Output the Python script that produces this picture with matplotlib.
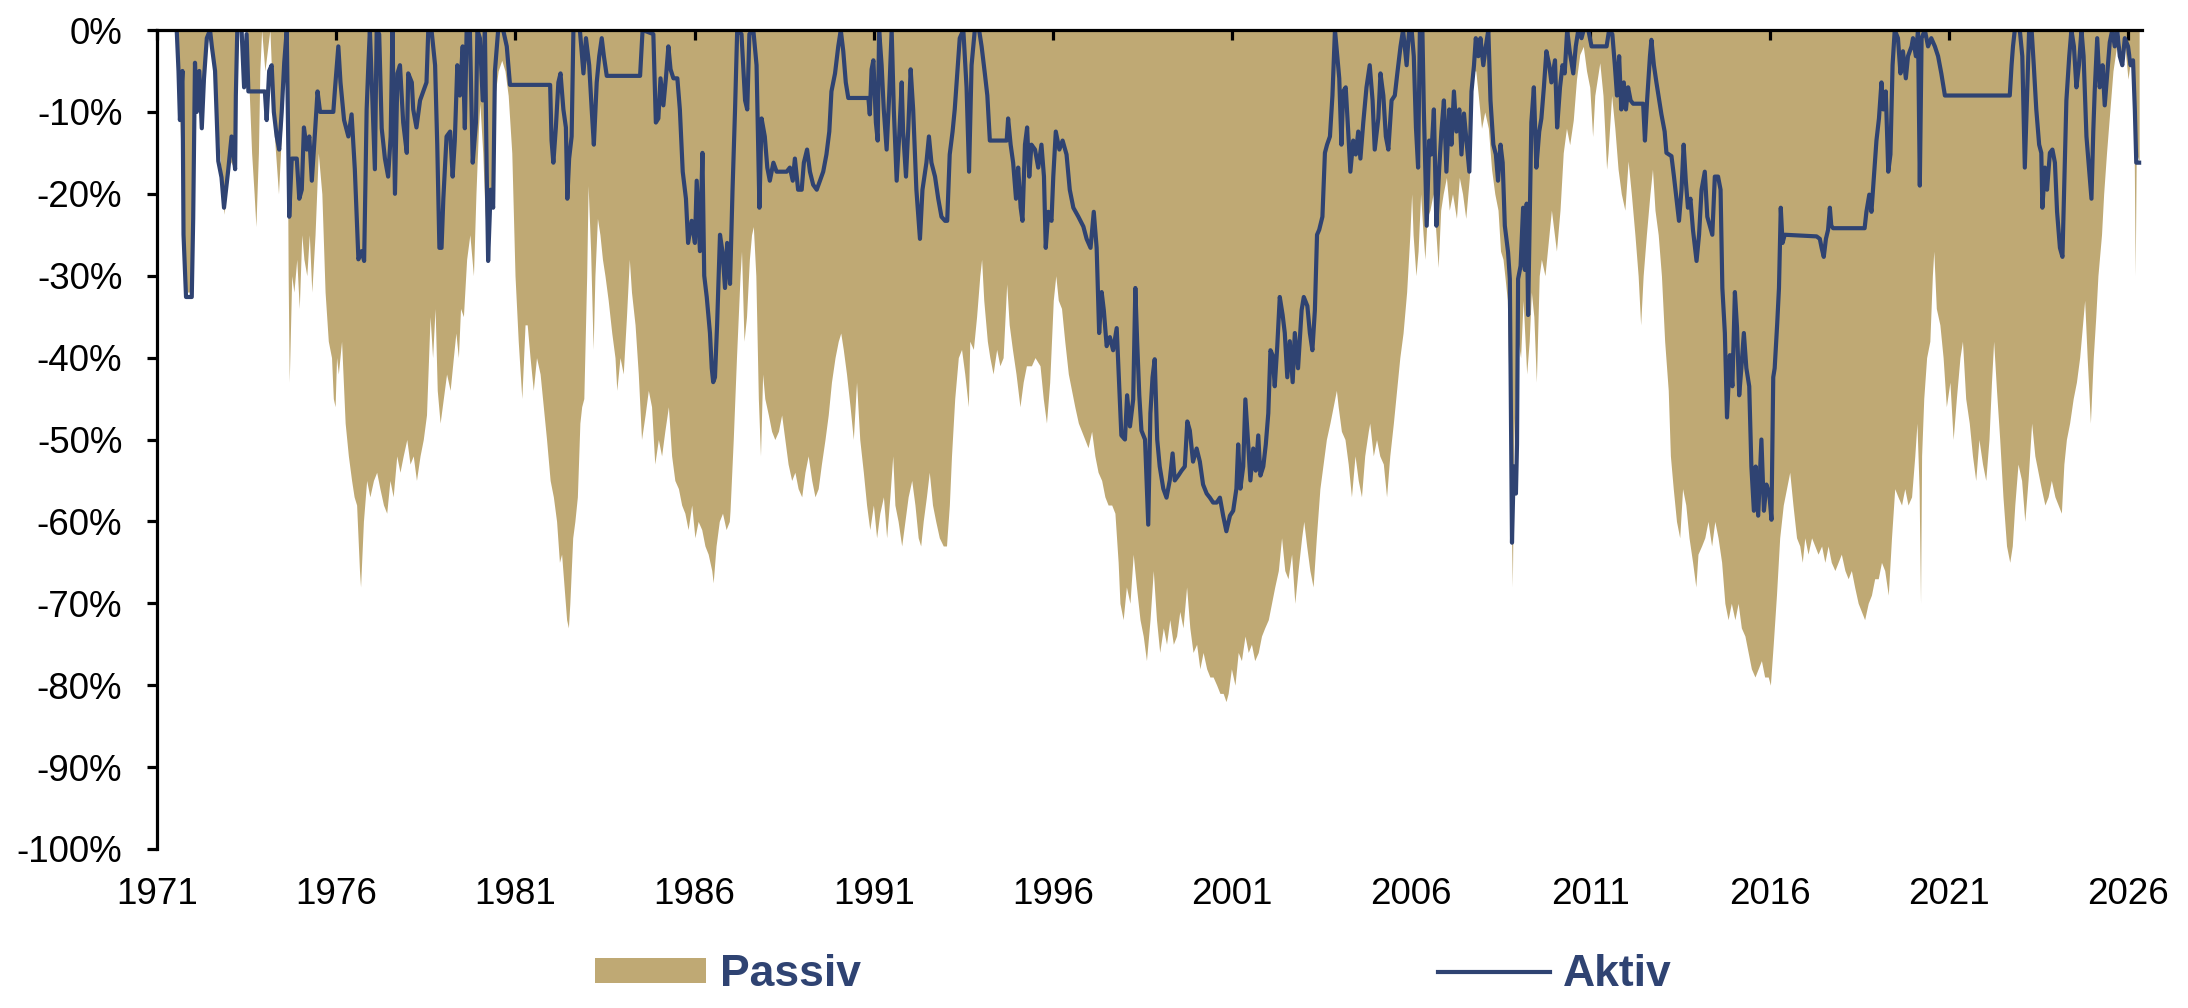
import numpy as np
import matplotlib
matplotlib.use("Agg")
import matplotlib.pyplot as plt

plt.rcParams['font.family'] = ['Liberation Sans', 'DejaVu Sans']

TAN = '#BFA974'
NAVY = '#2F4372'

# Drawdown of the passive investment (year, drawdown in %)
passiv = [
    (1971.55, 0), (1971.64, -11), (1971.74, -25), (1971.83, -32), (1971.97, -32),
    (1972.01, -22), (1972.06, -5), (1972.25, -12), (1972.39, -2), (1972.48, 0),
    (1972.66, -10), (1972.80, -18), (1972.87, -22.5), (1973.04, -16), (1973.18, -17),
    (1973.24, 0), (1973.50, 0), (1973.55, -5), (1973.64, -15), (1973.71, -20),
    (1973.76, -24), (1973.83, -15), (1973.87, -5), (1973.92, 0), (1974.01, -5),
    (1974.15, 0), (1974.26, -12), (1974.39, -20), (1974.48, -12), (1974.55, -4),
    (1974.62, 0), (1974.66, -30), (1974.69, -43), (1974.76, -30), (1974.82, -32),
    (1974.90, -28), (1974.97, -34), (1975.04, -25), (1975.10, -28), (1975.18, -30),
    (1975.25, -25), (1975.32, -32), (1975.41, -25), (1975.50, -15), (1975.60, -20),
    (1975.69, -32), (1975.78, -38), (1975.87, -40), (1975.92, -45), (1975.97, -46),
    (1976.01, -40), (1976.06, -42), (1976.15, -38), (1976.25, -48), (1976.34, -52),
    (1976.43, -55), (1976.50, -57), (1976.57, -58), (1976.65, -66), (1976.68, -68),
    (1976.76, -60), (1976.85, -55), (1976.94, -57), (1977.04, -55), (1977.13, -54),
    (1977.22, -56), (1977.32, -58), (1977.41, -59), (1977.50, -55), (1977.59, -57),
    (1977.69, -52), (1977.78, -54), (1977.87, -52), (1977.97, -50), (1978.06, -53),
    (1978.15, -52), (1978.24, -55), (1978.34, -52), (1978.43, -50), (1978.52, -47),
    (1978.62, -35), (1978.69, -40), (1978.76, -34), (1978.82, -44), (1978.90, -48),
    (1978.99, -45), (1979.08, -42), (1979.18, -44), (1979.27, -40), (1979.34, -37),
    (1979.41, -40), (1979.47, -34), (1979.55, -35), (1979.64, -28), (1979.73, -25),
    (1979.83, -30), (1979.90, -20), (1979.97, -12), (1980.01, -9), (1980.09, -15),
    (1980.15, -22), (1980.24, -28), (1980.31, -19), (1980.38, -21), (1980.43, -8),
    (1980.52, -5), (1980.62, -3.7), (1980.71, -5), (1980.80, -8), (1980.90, -15),
    (1980.99, -30), (1981.08, -38), (1981.18, -45), (1981.27, -36), (1981.33, -36),
    (1981.41, -40), (1981.50, -44), (1981.59, -40), (1981.69, -42), (1981.78, -46),
    (1981.87, -50), (1981.97, -55), (1982.06, -57), (1982.15, -60), (1982.23, -65),
    (1982.29, -64), (1982.36, -68), (1982.43, -72), (1982.48, -73), (1982.52, -70),
    (1982.60, -62), (1982.66, -60), (1982.73, -57), (1982.80, -48), (1982.85, -46),
    (1982.91, -45), (1982.99, -30), (1983.03, -19), (1983.10, -27), (1983.17, -39),
    (1983.22, -30), (1983.29, -23), (1983.36, -25), (1983.43, -28), (1983.50, -30),
    (1983.59, -33), (1983.69, -37), (1983.78, -40), (1983.83, -44), (1983.92, -40),
    (1984.01, -42), (1984.10, -35), (1984.18, -28), (1984.24, -32), (1984.34, -36),
    (1984.43, -42), (1984.52, -50), (1984.62, -47), (1984.71, -44), (1984.80, -46),
    (1984.89, -53), (1984.99, -50), (1985.08, -52), (1985.17, -49), (1985.27, -46),
    (1985.36, -52), (1985.45, -55), (1985.55, -56), (1985.64, -58), (1985.73, -59),
    (1985.82, -61), (1985.92, -58), (1986.01, -62), (1986.10, -60), (1986.20, -61),
    (1986.29, -63), (1986.38, -64), (1986.48, -66), (1986.52, -67.5), (1986.60, -63),
    (1986.69, -60), (1986.78, -59), (1986.88, -61), (1986.97, -60), (1986.99, -58.7),
    (1987.08, -50), (1987.17, -40), (1987.27, -30), (1987.31, -27), (1987.38, -38),
    (1987.45, -35), (1987.53, -28), (1987.59, -25), (1987.64, -24), (1987.71, -30),
    (1987.78, -45), (1987.84, -52), (1987.90, -42), (1987.96, -45), (1988.06, -47),
    (1988.15, -49), (1988.24, -50), (1988.34, -49), (1988.43, -47), (1988.52, -50),
    (1988.61, -53), (1988.71, -55), (1988.80, -54), (1988.89, -56), (1988.99, -57),
    (1989.08, -54), (1989.17, -52), (1989.27, -55), (1989.36, -57), (1989.45, -56),
    (1989.54, -53), (1989.64, -50), (1989.73, -47), (1989.82, -43), (1989.92, -40),
    (1990.01, -38), (1990.08, -37), (1990.15, -39), (1990.24, -42), (1990.34, -46),
    (1990.43, -50), (1990.52, -43), (1990.61, -50), (1990.71, -54), (1990.80, -58),
    (1990.89, -61), (1990.99, -58), (1991.08, -62), (1991.17, -59), (1991.27, -57),
    (1991.36, -62), (1991.45, -57), (1991.53, -52), (1991.59, -58), (1991.68, -60),
    (1991.78, -63), (1991.87, -60), (1991.96, -57), (1992.06, -55), (1992.15, -58),
    (1992.24, -62), (1992.31, -63), (1992.38, -60), (1992.47, -57), (1992.55, -54),
    (1992.64, -58), (1992.73, -60), (1992.83, -62), (1992.94, -63), (1993.03, -63),
    (1993.11, -58), (1993.17, -52), (1993.26, -45), (1993.36, -40), (1993.45, -39),
    (1993.54, -42), (1993.64, -46), (1993.68, -38), (1993.78, -39), (1993.87, -35),
    (1993.96, -30), (1994.01, -28), (1994.07, -33), (1994.17, -38), (1994.24, -40),
    (1994.33, -42), (1994.43, -39), (1994.52, -41), (1994.61, -40), (1994.71, -31),
    (1994.78, -36), (1994.87, -39), (1994.97, -42), (1995.08, -46), (1995.17, -43),
    (1995.26, -41), (1995.40, -41), (1995.50, -40), (1995.64, -41), (1995.73, -45),
    (1995.82, -48), (1995.91, -43), (1996.01, -33), (1996.08, -30), (1996.15, -33),
    (1996.24, -34), (1996.33, -38), (1996.43, -42), (1996.52, -44), (1996.61, -46),
    (1996.71, -48), (1996.80, -49), (1996.89, -50), (1996.98, -51), (1997.08, -49),
    (1997.17, -52), (1997.26, -54), (1997.36, -55), (1997.45, -57), (1997.54, -58),
    (1997.64, -58), (1997.73, -59), (1997.82, -65), (1997.87, -70), (1997.96, -72),
    (1998.05, -68), (1998.15, -70), (1998.24, -64), (1998.33, -68), (1998.43, -72),
    (1998.52, -74), (1998.61, -77), (1998.71, -72), (1998.80, -66), (1998.89, -72),
    (1998.98, -76), (1999.08, -73), (1999.17, -75), (1999.26, -72), (1999.36, -75),
    (1999.45, -74), (1999.54, -71), (1999.63, -73), (1999.73, -68), (1999.82, -73),
    (1999.91, -76), (2000.01, -75), (2000.10, -78), (2000.19, -76), (2000.29, -78),
    (2000.38, -79), (2000.47, -79), (2000.57, -80), (2000.66, -81), (2000.75, -81),
    (2000.83, -82), (2000.89, -81), (2000.98, -78), (2001.08, -80), (2001.17, -76),
    (2001.26, -77), (2001.36, -74), (2001.45, -76), (2001.54, -75), (2001.63, -77),
    (2001.73, -76), (2001.82, -74), (2001.91, -73), (2002.01, -72), (2002.10, -70),
    (2002.19, -68), (2002.29, -66), (2002.38, -62), (2002.47, -66), (2002.56, -67),
    (2002.66, -64), (2002.75, -70), (2002.84, -66), (2002.94, -62), (2003.00, -60),
    (2003.08, -63), (2003.17, -66), (2003.26, -68), (2003.35, -62), (2003.45, -56),
    (2003.54, -53), (2003.63, -50), (2003.73, -48), (2003.82, -46), (2003.91, -44),
    (2003.96, -46), (2004.05, -49), (2004.15, -50), (2004.24, -53), (2004.33, -57),
    (2004.43, -52), (2004.52, -55), (2004.61, -57), (2004.70, -52), (2004.80, -49),
    (2004.84, -48), (2004.94, -52), (2005.03, -50), (2005.12, -52), (2005.22, -53),
    (2005.31, -57), (2005.40, -52), (2005.50, -48), (2005.59, -44), (2005.68, -40),
    (2005.77, -37), (2005.87, -32), (2005.96, -25), (2006.01, -20), (2006.05, -25),
    (2006.13, -30), (2006.19, -27), (2006.26, -20), (2006.33, -25), (2006.38, -28),
    (2006.44, -23), (2006.52, -22), (2006.61, -20), (2006.69, -25), (2006.75, -29),
    (2006.82, -22), (2006.89, -20), (2006.98, -18), (2007.06, -22), (2007.15, -20),
    (2007.26, -23), (2007.34, -18), (2007.43, -20), (2007.52, -23), (2007.62, -18),
    (2007.68, -10), (2007.73, -5), (2007.80, -5), (2007.87, -8), (2007.96, -12),
    (2008.05, -10), (2008.15, -12), (2008.24, -17), (2008.33, -20), (2008.42, -22),
    (2008.49, -27), (2008.56, -28), (2008.61, -30), (2008.68, -33), (2008.73, -45),
    (2008.78, -58), (2008.82, -68), (2008.86, -50), (2008.92, -42), (2008.98, -38),
    (2009.05, -40), (2009.12, -33), (2009.22, -42), (2009.29, -38), (2009.35, -32),
    (2009.42, -35), (2009.49, -43), (2009.57, -30), (2009.63, -28), (2009.73, -30),
    (2009.82, -26), (2009.91, -22), (2010.05, -27), (2010.15, -22), (2010.24, -15),
    (2010.33, -12), (2010.42, -14), (2010.52, -11), (2010.61, -6), (2010.70, -3),
    (2010.80, -2), (2010.89, -5), (2010.98, -7), (2011.06, -13), (2011.12, -8),
    (2011.19, -6), (2011.26, -4), (2011.35, -8), (2011.45, -17), (2011.49, -15),
    (2011.59, -8), (2011.68, -12), (2011.77, -17), (2011.86, -20), (2011.96, -22),
    (2012.05, -16), (2012.14, -20), (2012.24, -25), (2012.33, -30), (2012.40, -36),
    (2012.47, -30), (2012.56, -25), (2012.66, -20), (2012.73, -17), (2012.80, -22),
    (2012.89, -25), (2012.98, -30), (2013.07, -38), (2013.17, -44), (2013.23, -52),
    (2013.31, -56), (2013.40, -60), (2013.49, -62), (2013.57, -56), (2013.66, -58),
    (2013.75, -62), (2013.85, -65), (2013.94, -68), (2014.00, -64), (2014.10, -63),
    (2014.19, -62), (2014.28, -60), (2014.38, -63), (2014.47, -60), (2014.56, -62),
    (2014.66, -65), (2014.75, -70), (2014.84, -72), (2014.93, -70), (2015.03, -72),
    (2015.12, -70), (2015.21, -73), (2015.31, -74), (2015.40, -76), (2015.49, -78),
    (2015.59, -79), (2015.68, -78), (2015.77, -77), (2015.86, -79), (2015.96, -79),
    (2016.02, -80), (2016.10, -75), (2016.19, -69), (2016.28, -62), (2016.38, -58),
    (2016.47, -56), (2016.56, -54), (2016.65, -58), (2016.75, -62), (2016.84, -63),
    (2016.91, -65), (2016.98, -62), (2017.07, -64), (2017.17, -62), (2017.26, -63),
    (2017.35, -64), (2017.45, -63), (2017.54, -65), (2017.63, -63), (2017.72, -65),
    (2017.82, -66), (2017.91, -65), (2018.00, -64), (2018.10, -66), (2018.19, -67),
    (2018.28, -66), (2018.37, -68), (2018.47, -70), (2018.56, -71), (2018.65, -72),
    (2018.75, -70), (2018.84, -69), (2018.93, -67), (2019.03, -67), (2019.12, -65),
    (2019.21, -66), (2019.31, -69), (2019.40, -62), (2019.49, -56), (2019.58, -57),
    (2019.68, -58), (2019.77, -56), (2019.86, -58), (2019.96, -57), (2020.05, -52),
    (2020.11, -48), (2020.17, -56), (2020.21, -70), (2020.24, -52), (2020.30, -45),
    (2020.38, -40), (2020.47, -38), (2020.54, -30), (2020.58, -27), (2020.65, -34),
    (2020.75, -36), (2020.84, -40), (2020.93, -46), (2021.03, -43), (2021.12, -50),
    (2021.21, -45), (2021.31, -40), (2021.38, -38), (2021.47, -45), (2021.57, -48),
    (2021.66, -52), (2021.75, -55), (2021.84, -50), (2021.94, -53), (2022.03, -55),
    (2022.12, -50), (2022.19, -43), (2022.25, -38), (2022.33, -44), (2022.42, -50),
    (2022.51, -57), (2022.61, -63), (2022.70, -65), (2022.77, -63), (2022.84, -58),
    (2022.93, -53), (2023.03, -55), (2023.12, -60), (2023.21, -55), (2023.31, -48),
    (2023.40, -52), (2023.49, -54), (2023.58, -56), (2023.68, -58), (2023.77, -57),
    (2023.86, -55), (2023.96, -57), (2024.05, -58), (2024.14, -59), (2024.21, -53),
    (2024.28, -50), (2024.37, -48), (2024.47, -45), (2024.56, -43), (2024.65, -40),
    (2024.75, -35), (2024.79, -33), (2024.86, -40), (2024.95, -48), (2025.03, -40),
    (2025.10, -35), (2025.16, -30), (2025.26, -25), (2025.32, -20), (2025.40, -15),
    (2025.49, -10), (2025.58, -5), (2025.68, -2), (2025.75, 0), (2025.82, -4),
    (2025.91, -2), (2026.00, -6), (2026.09, -3), (2026.16, -8), (2026.20, -30),
    (2026.23, -15), (2026.31, -16),
]

# Drawdown of the active strategy (year, drawdown in %)
aktiv = [
    (1971.55, 0), (1971.60, -5), (1971.64, -11), (1971.71, -5), (1971.74, -25),
    (1971.81, -32.6), (1971.97, -32.6), (1972.01, -23), (1972.06, -4), (1972.11, -10),
    (1972.18, -5), (1972.25, -12), (1972.31, -6), (1972.39, -1), (1972.48, 0),
    (1972.53, -2), (1972.62, -5), (1972.71, -16), (1972.80, -18), (1972.87, -21.7),
    (1972.99, -17), (1973.08, -13), (1973.18, -17), (1973.20, -8), (1973.24, 0),
    (1973.36, 0), (1973.43, -7), (1973.50, -0.5), (1973.55, -7.5), (1974.01, -7.5),
    (1974.06, -11), (1974.13, -5), (1974.20, -4.3), (1974.26, -10), (1974.34, -13),
    (1974.41, -14.6), (1974.48, -10), (1974.55, -4), (1974.62, 0), (1974.69, -22.8),
    (1974.76, -15.7), (1974.90, -15.7), (1974.97, -20.6), (1975.04, -19.5), (1975.10, -11.9),
    (1975.18, -14.6), (1975.25, -13), (1975.32, -18.4), (1975.41, -12.4), (1975.48, -7.5),
    (1975.55, -10), (1975.92, -10), (1975.97, -7), (1976.06, -2), (1976.12, -6.4),
    (1976.22, -11), (1976.34, -13), (1976.43, -10.3), (1976.52, -17), (1976.62, -28),
    (1976.71, -27), (1976.78, -28.2), (1976.85, -9.7), (1976.90, -4), (1976.94, 0),
    (1977.02, -9.7), (1977.08, -17), (1977.13, 0), (1977.20, -0.5), (1977.27, -12),
    (1977.36, -15.7), (1977.45, -17.9), (1977.52, -13), (1977.57, 0), (1977.64, -20),
    (1977.71, -5.3), (1977.78, -4.3), (1977.87, -11.3), (1977.97, -15), (1978.01, -5.3),
    (1978.11, -6.4), (1978.15, -9.7), (1978.24, -11.9), (1978.34, -8.6), (1978.43, -7.5),
    (1978.52, -6.4), (1978.57, 0), (1978.66, 0), (1978.76, -4.3), (1978.82, -14),
    (1978.88, -26.6), (1978.94, -26.6), (1978.99, -20.6), (1979.08, -13), (1979.18, -12.4),
    (1979.25, -17.9), (1979.31, -13.5), (1979.38, -4.3), (1979.45, -8), (1979.53, -2),
    (1979.59, -12), (1979.64, 0), (1979.73, 0), (1979.81, -16.2), (1979.90, -11.3),
    (1979.94, 0), (1980.01, -1), (1980.09, -8.6), (1980.15, 0), (1980.20, -17.3),
    (1980.24, -28.2), (1980.31, -19.5), (1980.38, -21.7), (1980.43, -5), (1980.52, 0),
    (1980.66, 0), (1980.76, -2), (1980.85, -6.7), (1981.97, -6.7), (1982.01, -13.5),
    (1982.06, -16.2), (1982.13, -11.9), (1982.20, -6.4), (1982.26, -5.3), (1982.34, -9.7),
    (1982.41, -11.9), (1982.45, -20.6), (1982.50, -15.7), (1982.57, -13), (1982.62, 0),
    (1982.80, 0), (1982.90, -5.3), (1982.97, -1), (1983.06, -4.3), (1983.13, -9.7),
    (1983.19, -14), (1983.27, -6.4), (1983.34, -3.2), (1983.41, -1), (1983.47, -3.2),
    (1983.55, -5.6), (1984.48, -5.6), (1984.55, 0), (1984.85, -0.5), (1984.92, -11.3),
    (1984.99, -10.8), (1985.05, -5.9), (1985.13, -9.2), (1985.20, -5.9), (1985.27, -2),
    (1985.33, -4.8), (1985.41, -5.9), (1985.52, -5.9), (1985.59, -9.7), (1985.67, -17.3),
    (1985.76, -20.6), (1985.82, -26), (1985.92, -23.3), (1986.01, -26), (1986.06, -18.4),
    (1986.15, -27), (1986.22, -15), (1986.27, -30), (1986.34, -32.6), (1986.43, -37),
    (1986.48, -41.3), (1986.52, -43), (1986.57, -42.4), (1986.63, -35.9), (1986.71, -25),
    (1986.78, -27.1), (1986.85, -31.5), (1986.91, -26), (1986.99, -31), (1987.06, -19.5),
    (1987.13, -9.7), (1987.19, 0), (1987.31, -0.5), (1987.41, -8.6), (1987.47, -9.7),
    (1987.53, -0.5), (1987.64, 0), (1987.73, -4.3), (1987.81, -21.7), (1987.87, -10.8),
    (1987.96, -13), (1988.03, -16.8), (1988.10, -18.4), (1988.20, -16.2), (1988.29, -17.3),
    (1988.57, -17.3), (1988.66, -16.8), (1988.74, -18.4), (1988.80, -15.7), (1988.89, -19.5),
    (1988.99, -19.5), (1989.05, -16.2), (1989.14, -14.6), (1989.22, -17.3), (1989.31, -18.9),
    (1989.41, -19.5), (1989.50, -18.4), (1989.59, -17.3), (1989.68, -15.2), (1989.76, -12.4),
    (1989.82, -7.5), (1989.92, -5.3), (1990.01, -2), (1990.08, 0), (1990.15, -2.6),
    (1990.22, -6.4), (1990.29, -8.3), (1990.85, -8.3), (1990.89, -10.3), (1990.94, -4.8),
    (1990.99, -3.7), (1991.06, -11.3), (1991.11, -13.5), (1991.15, 0), (1991.22, -4.3),
    (1991.28, -9.7), (1991.36, -14.6), (1991.43, -8.1), (1991.50, 0), (1991.56, -9.7),
    (1991.64, -18.4), (1991.71, -13), (1991.78, -6.4), (1991.82, -12.4), (1991.90, -17.9),
    (1991.96, -12.4), (1992.03, -4.8), (1992.10, -9.7), (1992.19, -19.5), (1992.29, -25.5),
    (1992.36, -19.5), (1992.47, -16.2), (1992.54, -13), (1992.61, -16.2), (1992.71, -17.9),
    (1992.80, -20.6), (1992.89, -22.8), (1992.99, -23.3), (1993.05, -23.3), (1993.12, -15.2),
    (1993.20, -12.4), (1993.26, -9.7), (1993.33, -5.3), (1993.40, -1), (1993.50, 0),
    (1993.59, -7), (1993.66, -17.3), (1993.73, -4.3), (1993.82, 0), (1993.94, 0),
    (1994.01, -2), (1994.10, -5.3), (1994.17, -8), (1994.24, -13.5), (1994.71, -13.5),
    (1994.75, -10.8), (1994.82, -14), (1994.89, -16.2), (1994.97, -20.6), (1995.03, -16.8),
    (1995.10, -21.7), (1995.15, -23.3), (1995.22, -14), (1995.28, -11.9), (1995.34, -17.9),
    (1995.40, -14), (1995.50, -14.6), (1995.59, -16.8), (1995.68, -14), (1995.75, -17.9),
    (1995.80, -26.6), (1995.87, -22.2), (1995.96, -23.3), (1996.01, -17.9), (1996.08, -12.4),
    (1996.18, -14.6), (1996.27, -13.5), (1996.38, -15.2), (1996.47, -19.5), (1996.57, -21.7),
    (1996.71, -22.8), (1996.85, -24), (1996.94, -25.5), (1997.05, -26.6), (1997.14, -22.2),
    (1997.22, -26.6), (1997.29, -37), (1997.36, -32), (1997.42, -34.2), (1997.50, -38.6),
    (1997.59, -37.5), (1997.68, -39.1), (1997.78, -36.4), (1997.85, -43.5), (1997.91, -49.5),
    (1998.01, -50), (1998.07, -44.6), (1998.15, -48.4), (1998.24, -45.1), (1998.30, -31.5),
    (1998.35, -38), (1998.41, -44.6), (1998.47, -48.9), (1998.57, -50), (1998.66, -60.4),
    (1998.72, -46.8), (1998.78, -42.4), (1998.84, -40.2), (1998.91, -50), (1998.98, -53.3),
    (1999.08, -56), (1999.17, -57.1), (1999.26, -55), (1999.34, -51.7), (1999.40, -55),
    (1999.50, -54.4), (1999.59, -53.8), (1999.68, -53.3), (1999.75, -47.8), (1999.82, -48.9),
    (1999.91, -52.7), (2000.01, -51.1), (2000.10, -52.7), (2000.19, -55.5), (2000.29, -56.6),
    (2000.38, -57.1), (2000.47, -57.7), (2000.57, -57.7), (2000.66, -57.1), (2000.75, -59.3),
    (2000.84, -61.2), (2000.94, -59.3), (2001.03, -58.7), (2001.12, -56), (2001.17, -50.6),
    (2001.23, -56), (2001.31, -53.3), (2001.37, -45.1), (2001.45, -50.6), (2001.51, -55),
    (2001.59, -51.1), (2001.66, -53.8), (2001.73, -49.5), (2001.79, -54.4), (2001.87, -53.3),
    (2001.94, -50.6), (2002.01, -46.8), (2002.07, -39.1), (2002.13, -39.7), (2002.19, -43.5),
    (2002.26, -38.6), (2002.33, -32.6), (2002.41, -34.8), (2002.47, -37), (2002.54, -42.4),
    (2002.61, -38), (2002.69, -43), (2002.75, -37), (2002.84, -41.3), (2002.94, -34.2),
    (2003.00, -32.6), (2003.10, -33.7), (2003.17, -37), (2003.24, -39.1), (2003.31, -34.2),
    (2003.37, -25), (2003.43, -24.4), (2003.52, -22.8), (2003.59, -15), (2003.65, -14),
    (2003.73, -13), (2003.80, -8), (2003.87, 0), (2003.91, -2), (2003.99, -5.9),
    (2004.05, -14), (2004.10, -7.5), (2004.17, -7), (2004.24, -12.4), (2004.30, -17.3),
    (2004.38, -13.5), (2004.45, -15.2), (2004.52, -12.4), (2004.58, -15.7), (2004.66, -11.3),
    (2004.75, -7), (2004.84, -4.3), (2004.92, -8.6), (2004.98, -14.6), (2005.08, -10.8),
    (2005.14, -5.3), (2005.22, -8), (2005.29, -13), (2005.36, -14.6), (2005.45, -8.6),
    (2005.54, -8), (2005.61, -5.3), (2005.70, -2), (2005.77, 0), (2005.87, -4.3),
    (2005.94, 0), (2006.01, 0), (2006.07, -3.2), (2006.13, -11.9), (2006.19, -16.8),
    (2006.24, 0), (2006.31, 0), (2006.35, -9.7), (2006.43, -23.9), (2006.50, -13.5),
    (2006.56, -15.2), (2006.63, -9.7), (2006.70, -23.9), (2006.78, -16.8), (2006.84, -12.4),
    (2006.91, -8.6), (2006.98, -17.3), (2007.06, -9.7), (2007.12, -14), (2007.19, -7.5),
    (2007.26, -12.4), (2007.34, -9.7), (2007.40, -15.2), (2007.47, -10.2), (2007.54, -13.5),
    (2007.62, -17.3), (2007.68, -7.5), (2007.75, -4.3), (2007.80, -1), (2007.87, -3.2),
    (2007.93, -1), (2008.01, -4.3), (2008.08, -2), (2008.15, 0), (2008.21, -8.6),
    (2008.29, -14), (2008.36, -15.2), (2008.42, -18.4), (2008.49, -14), (2008.55, -16.2),
    (2008.61, -23.9), (2008.70, -27.1), (2008.75, -30.4), (2008.81, -62.6), (2008.86, -53.3),
    (2008.92, -56.6), (2008.95, -50.6), (2008.98, -30.4), (2009.05, -28.8), (2009.12, -21.7),
    (2009.17, -29.3), (2009.22, -21.2), (2009.26, -34.8), (2009.31, -21.7), (2009.35, -11.3),
    (2009.42, -7), (2009.49, -16.8), (2009.57, -12.4), (2009.63, -10.8), (2009.70, -7),
    (2009.77, -2.6), (2009.85, -4.3), (2009.91, -6.4), (2010.01, -3.7), (2010.07, -11.9),
    (2010.15, -7), (2010.22, -4.3), (2010.28, -5.3), (2010.35, 0), (2010.42, -2.6),
    (2010.52, -5.3), (2010.59, -2), (2010.66, 0), (2010.75, -1), (2010.81, 0),
    (2010.94, 0), (2011.03, -2), (2011.45, -2), (2011.52, 0), (2011.61, -0.5),
    (2011.68, -4.3), (2011.74, -8), (2011.80, -3.2), (2011.86, -9.7), (2011.93, -6.4),
    (2011.99, -9.7), (2012.05, -7), (2012.12, -8.6), (2012.19, -9), (2012.47, -9),
    (2012.52, -13.5), (2012.58, -8.6), (2012.66, -3.2), (2012.70, -1.2), (2012.77, -4.3),
    (2012.84, -6.4), (2012.92, -8.6), (2012.98, -10.3), (2013.07, -12.4), (2013.12, -15),
    (2013.26, -15.4), (2013.33, -17.9), (2013.40, -20.6), (2013.47, -23.3), (2013.54, -19.5),
    (2013.60, -14), (2013.66, -18.4), (2013.72, -21.7), (2013.79, -20.6), (2013.86, -24.4),
    (2013.96, -28.2), (2014.03, -25), (2014.10, -19.5), (2014.19, -17.3), (2014.26, -22.8),
    (2014.33, -23.9), (2014.40, -25), (2014.47, -17.9), (2014.56, -17.9), (2014.63, -19.5),
    (2014.68, -31.5), (2014.75, -37), (2014.81, -47.3), (2014.89, -39.7), (2014.96, -43.5),
    (2015.03, -32), (2015.09, -36.4), (2015.15, -44.6), (2015.21, -41.3), (2015.28, -37),
    (2015.35, -41.3), (2015.43, -43.5), (2015.49, -53.3), (2015.56, -58.7), (2015.61, -53.3),
    (2015.68, -59.3), (2015.77, -50), (2015.84, -58.7), (2015.91, -55.5), (2015.99, -56.6),
    (2016.05, -59.8), (2016.10, -42.4), (2016.14, -41.3), (2016.21, -35.9), (2016.26, -31.5),
    (2016.31, -21.7), (2016.36, -26), (2016.42, -25), (2017.31, -25.2), (2017.40, -25.5),
    (2017.45, -26.6), (2017.51, -27.7), (2017.57, -25.5), (2017.63, -24.4), (2017.68, -21.7),
    (2017.72, -23.9), (2017.77, -24.2), (2018.65, -24.2), (2018.70, -22.2), (2018.78, -20.1),
    (2018.84, -22.2), (2018.91, -17.9), (2018.98, -13.5), (2019.05, -10.8), (2019.12, -6.4),
    (2019.17, -9.7), (2019.24, -7.5), (2019.31, -17.3), (2019.37, -15.2), (2019.43, -4.3),
    (2019.49, 0), (2019.58, -1), (2019.65, -5.3), (2019.72, -2.6), (2019.80, -5.9),
    (2019.86, -3.2), (2019.96, -2), (2020.00, -1), (2020.08, -3.2), (2020.14, 0),
    (2020.19, -19), (2020.24, -1), (2020.33, 0), (2020.42, -2), (2020.51, -1),
    (2020.61, -2), (2020.70, -3.2), (2020.79, -5.3), (2020.89, -8), (2022.70, -8),
    (2022.75, -4.3), (2022.79, -2), (2022.84, 0), (2022.98, 0), (2023.05, -3.2),
    (2023.12, -16.8), (2023.17, -9.7), (2023.24, 0), (2023.31, 0), (2023.37, -4.3),
    (2023.44, -9.7), (2023.52, -14), (2023.58, -15), (2023.61, -21.7), (2023.68, -16.8),
    (2023.74, -19.5), (2023.82, -15), (2023.89, -14.6), (2023.96, -16.2), (2024.02, -22.2),
    (2024.10, -26.6), (2024.17, -27.7), (2024.21, -20.6), (2024.28, -8.6), (2024.36, -3.2),
    (2024.42, 0), (2024.49, -2), (2024.56, -7), (2024.63, -4.3), (2024.70, 0),
    (2024.76, -3.2), (2024.84, -13), (2024.91, -16.8), (2024.98, -20.6), (2025.03, -12.4),
    (2025.07, -7.5), (2025.14, -1), (2025.21, -7), (2025.29, -4.3), (2025.35, -9.2),
    (2025.42, -5.3), (2025.49, -1.5), (2025.56, 0), (2025.63, -2), (2025.70, 0),
    (2025.77, -3.2), (2025.84, -4.3), (2025.91, -1), (2026.00, -2), (2026.07, -4.3),
    (2026.14, -3.7), (2026.19, -9.7), (2026.23, -16.2), (2026.31, -16.2),
]

year_ticks = [1971, 1976, 1981, 1986, 1991, 1996, 2001, 2006, 2011, 2016, 2021, 2026]
pct_ticks = [0, -10, -20, -30, -40, -50, -60, -70, -80, -90, -100]

p_year, p_dd = np.array(passiv).T
a_year, a_dd = np.array(aktiv).T

fig = plt.figure(figsize=(21.88, 10.08), dpi=100)
ax = fig.add_axes([157 / 2188, 1 - 849 / 1008, (2142 - 157) / 2188, (849 - 30) / 1008])

ax.fill_between(p_year, p_dd, 0, color=TAN, linewidth=0, label='Passiv', zorder=1)
ax.plot(a_year, a_dd, color=NAVY, linewidth=3.0, label='Aktiv', zorder=2)

ax.set_xlim(1971, 2026.39)
ax.set_ylim(-100, 0)

for side in ['right', 'bottom']:
    ax.spines[side].set_visible(False)
for side in ['left', 'top']:
    ax.spines[side].set_linewidth(2.3)
    ax.spines[side].set_color('black')
    ax.spines[side].set_zorder(3)

ax.set_yticks(pct_ticks)
ax.set_yticklabels([f'{v}%' for v in pct_ticks])
ax.tick_params(axis='y', direction='out', length=7, width=2.3, pad=18, labelsize=26.5)

ax.set_xticks(year_ticks)
ax.set_xticklabels([str(y) for y in year_ticks])
ax.tick_params(axis='x', top=True, bottom=False, labeltop=False, labelbottom=True,
               direction='in', length=7, width=2.3, pad=20, labelsize=26.5)

handles, labels = ax.get_legend_handles_labels()
fig.legend(handles, labels, loc='center', bbox_to_anchor=(0.518, 0.033), ncol=2,
           frameon=False, prop={'weight': 'bold', 'size': 32}, labelcolor=NAVY,
           handlelength=2.5, handleheight=0.5, columnspacing=13, handletextpad=0.3)

fig.savefig('out.png', dpi=100)
